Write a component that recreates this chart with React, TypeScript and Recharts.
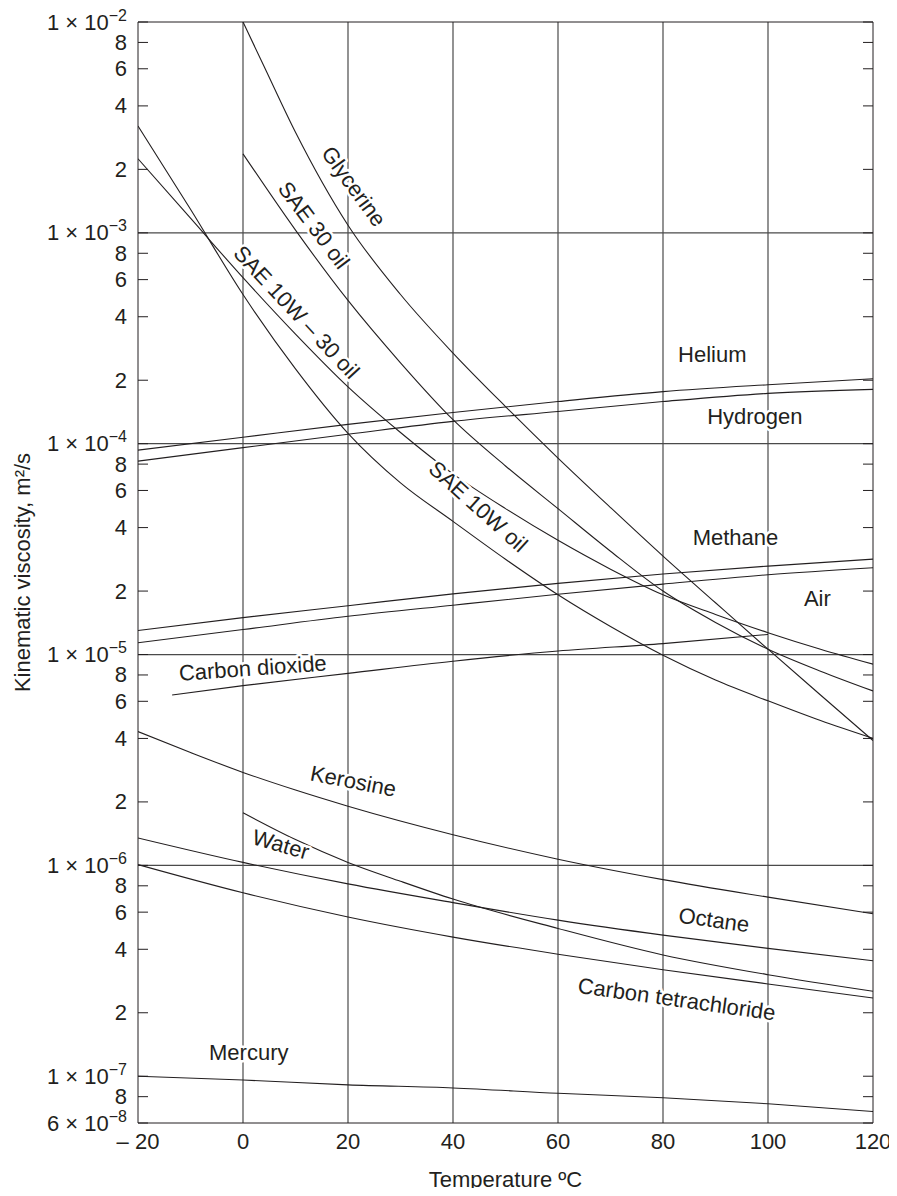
import React from 'react';
import { LineChart, Line, XAxis, YAxis, ReferenceLine, ReferenceDot } from 'recharts';

const FONT = '"Liberation Sans", Arial, Helvetica, sans-serif';
const INK = '#231f20';
const GRID = '#4a4a4a';

// axes: temperature in ºC, kinematic viscosity in m²/s (log)
const tempDomain = [-20, 120];
const nuDomain = [6e-8, 1e-2];
const tempLabelTicks = [-20, 0, 20, 40, 60, 80, 100, 120];
const tempMinorTicks = [-10, 10, 30, 50, 70, 90, 110];
const tempGrid = [0, 20, 40, 60, 80, 100];
const nuTicks = [
  1e-2, 8e-3, 6e-3, 4e-3, 2e-3,
  1e-3, 8e-4, 6e-4, 4e-4, 2e-4,
  1e-4, 8e-5, 6e-5, 4e-5, 2e-5,
  1e-5, 8e-6, 6e-6, 4e-6, 2e-6,
  1e-6, 8e-7, 6e-7, 4e-7, 2e-7,
  1e-7, 8e-8, 6e-8,
];
const nuGrid = [1e-3, 1e-4, 1e-5, 1e-6];

// curves
const glycerineT = [0, 4, 10, 20, 30, 40, 50, 60, 70, 80, 90, 100, 110, 120];
const glycerineNu = [1.0e-2, 6.17e-3, 3.0e-3, 1.087e-3, 5.1e-4, 2.69e-4, 1.5e-4, 8.55e-5, 4.98e-5, 2.93e-5, 1.76e-5, 1.06e-5, 6.43e-6, 3.91e-6];

const sae30T = [0, 10, 20, 30, 40, 50, 60, 70, 80, 90, 100, 110, 120];
const sae30Nu = [2.37e-3, 1.03e-3, 4.78e-4, 2.42e-4, 1.3e-4, 7.84e-5, 4.92e-5, 3.09e-5, 2.0e-5, 1.42e-5, 1.06e-5, 8.34e-6, 6.72e-6];

const sae10w30T = [-20, -10, 0, 10, 20, 30, 40, 50, 60, 70, 80, 90, 100, 110, 120];
const sae10w30Nu = [2.245e-3, 1.173e-3, 6.13e-4, 3.31e-4, 1.86e-4, 1.13e-4, 7.19e-5, 4.92e-5, 3.48e-5, 2.54e-5, 1.92e-5, 1.55e-5, 1.27e-5, 1.06e-5, 9.0e-6];

const sae10wT = [-20, -10, 0, 10, 20, 30, 40, 50, 60, 70, 80, 90, 100, 110, 120];
const sae10wNu = [3.21e-3, 1.293e-3, 5.1e-4, 2.264e-4, 1.12e-4, 6.52e-5, 4.28e-5, 2.83e-5, 1.92e-5, 1.358e-5, 9.92e-6, 7.57e-6, 6.03e-6, 4.86e-6, 4.0e-6];

const gasT = [-20, 0, 20, 40, 60, 80, 100, 120];
const heliumNu = [9.32e-5, 1.073e-4, 1.235e-4, 1.406e-4, 1.584e-4, 1.765e-4, 1.904e-4, 2.032e-4];
const hydrogenNu = [8.27e-5, 9.58e-5, 1.108e-4, 1.276e-4, 1.422e-4, 1.584e-4, 1.733e-4, 1.809e-4];
const methaneNu = [1.3e-5, 1.497e-5, 1.704e-5, 1.94e-5, 2.175e-5, 2.41e-5, 2.627e-5, 2.834e-5];
const airNu = [1.138e-5, 1.314e-5, 1.518e-5, 1.714e-5, 1.93e-5, 2.158e-5, 2.39e-5, 2.58e-5];

const co2T = [-13.5, 0, 20, 40, 60, 80, 100];
const co2Nu = [6.43e-6, 7.12e-6, 8.14e-6, 9.3e-6, 1.039e-5, 1.126e-5, 1.245e-5];

const keroseneT = [-20, -10, 0, 10, 20, 40, 60, 80, 100, 120];
const keroseneNu = [4.31e-6, 3.43e-6, 2.76e-6, 2.276e-6, 1.908e-6, 1.398e-6, 1.07e-6, 8.56e-7, 7.07e-7, 5.9e-7];

const waterT = [0, 10, 20, 30, 40, 60, 80, 100, 120];
const waterNu = [1.775e-6, 1.325e-6, 1.033e-6, 8.41e-7, 6.92e-7, 5.02e-7, 3.76e-7, 3.03e-7, 2.53e-7];

const octaneNu = [1.349e-6, 1.033e-6, 8.17e-7, 6.66e-7, 5.5e-7, 4.67e-7, 4.04e-7, 3.53e-7];
const ccl4Nu = [1.008e-6, 7.41e-7, 5.69e-7, 4.57e-7, 3.79e-7, 3.2e-7, 2.74e-7, 2.35e-7];
const mercuryNu = [1.0e-7, 9.6e-8, 9.1e-8, 8.8e-8, 8.3e-8, 7.9e-8, 7.4e-8, 6.8e-8];

const series = [
  { name: 'Glycerine', t: glycerineT, nu: glycerineNu },
  { name: 'SAE 30 oil', t: sae30T, nu: sae30Nu },
  { name: 'SAE 10W-30 oil', t: sae10w30T, nu: sae10w30Nu },
  { name: 'SAE 10W oil', t: sae10wT, nu: sae10wNu },
  { name: 'Helium', t: gasT, nu: heliumNu },
  { name: 'Hydrogen', t: gasT, nu: hydrogenNu },
  { name: 'Methane', t: gasT, nu: methaneNu },
  { name: 'Air', t: gasT, nu: airNu },
  { name: 'Carbon dioxide', t: co2T, nu: co2Nu },
  { name: 'Kerosine', t: keroseneT, nu: keroseneNu },
  { name: 'Water', t: waterT, nu: waterNu },
  { name: 'Octane', t: gasT, nu: octaneNu },
  { name: 'Carbon tetrachloride', t: gasT, nu: ccl4Nu },
  { name: 'Mercury', t: gasT, nu: mercuryNu },
];

// where each curve name sits (data coords) and its slant
const curveLabels = [
  { text: 'Glycerine', t: 21.1, nu: 1.66e-3, angle: 54 },
  { text: 'SAE 30 oil', t: 13.5, nu: 1.087e-3, angle: 53 },
  { text: 'SAE 10W – 30 oil', t: 10.2, nu: 4.2e-4, angle: 47 },
  { text: 'SAE 10W oil', t: 44.8, nu: 5.03e-5, angle: 42 },
  { text: 'Helium', t: 89.4, nu: 2.65e-4, angle: 0 },
  { text: 'Hydrogen', t: 97.5, nu: 1.353e-4, angle: 0 },
  { text: 'Methane', t: 93.8, nu: 3.58e-5, angle: 0 },
  { text: 'Air', t: 109.4, nu: 1.838e-5, angle: 0 },
  { text: 'Carbon dioxide', t: 1.85, nu: 8.62e-6, angle: -4 },
  { text: 'Kerosine', t: 21, nu: 2.51e-6, angle: 11 },
  { text: 'Water', t: 7.2, nu: 1.255e-6, angle: 16 },
  { text: 'Octane', t: 89.7, nu: 5.51e-7, angle: 8 },
  { text: 'Carbon tetrachloride', t: 82.6, nu: 2.32e-7, angle: 8 },
  { text: 'Mercury', t: 1.1, nu: 1.3e-7, angle: 0 },
];

const toPoints = (t: number[], nu: number[]) => t.map((v, i) => ({ t: v, nu: nu[i] }));

function NuTickLabel({ x, y, payload }: any) {
  const v: number = payload.value;
  const exp = Math.floor(Math.log10(v) + 1e-9);
  const mant = Math.round(v / Math.pow(10, exp));
  const withPower = mant === 1 || v === nuDomain[0];
  return (
    <text x={x - 11} y={y} dy={7.5} textAnchor="end" fontSize={22} fontFamily={FONT} fill={INK}>
      {withPower ? (
        <>
          <tspan>{`${mant} × 10`}</tspan>
          <tspan dy={-9} fontSize={16}>{`−${-exp}`}</tspan>
        </>
      ) : String(mant)}
    </text>
  );
}

function TempTickLabel({ x, y, payload }: any) {
  const v: number = payload.value;
  return (
    <text x={x} y={y} dy={26} textAnchor="middle" fontSize={22} fontFamily={FONT} fill={INK}>
      {v < 0 ? `– ${-v}` : String(v)}
    </text>
  );
}

// tick marks only, no text
const NoLabel = () => null;

const curveLabelShape = (text: string, angle: number) => (p: any) => (
  <text
    x={p.cx}
    y={p.cy}
    transform={`rotate(${angle} ${p.cx} ${p.cy})`}
    textAnchor="middle"
    dominantBaseline="central"
    fontSize={22}
    fontFamily={FONT}
    fill={INK}
    stroke="#fff"
    strokeWidth={5}
    strokeLinejoin="round"
    style={{ paintOrder: 'stroke' }}
  >
    {text}
  </text>
);

export default function App() {
  return (
    <div style={{ margin: '-8px 0 -8px -8px', width: 897, height: 1196, background: '#fff' }}>
      <LineChart width={897} height={1196} margin={{ top: 22, right: 24, bottom: 0, left: 0 }}>
        <XAxis
          xAxisId="t" type="number" dataKey="t" domain={tempDomain} ticks={tempLabelTicks}
          interval={0} allowDataOverflow height={73} stroke={INK}
          tickLine={false} tickSize={0} tickMargin={0} tick={<TempTickLabel />}
          label={{ value: 'Temperature ºC', position: 'insideBottom', offset: 9, fill: INK, fontSize: 22, fontFamily: FONT }}
        />
        <XAxis
          xAxisId="tBottom" type="number" domain={tempDomain} ticks={tempMinorTicks}
          interval={0} allowDataOverflow mirror axisLine={false} stroke={INK} tickSize={10} tick={<NoLabel />}
        />
        <XAxis
          xAxisId="tTop" orientation="top" type="number" domain={tempDomain} ticks={tempMinorTicks}
          interval={0} allowDataOverflow mirror stroke={INK} tickSize={10} tick={<NoLabel />}
        />
        <YAxis
          yAxisId="nu" type="number" scale="log" domain={nuDomain} ticks={nuTicks}
          interval={0} allowDataOverflow width={138} stroke={INK}
          tickLine={false} tickSize={0} tickMargin={0} tick={<NuTickLabel />}
          label={{
            value: 'Kinematic viscosity, m²/s', angle: -90, position: 'insideLeft', offset: 22,
            fill: INK, fontSize: 22, fontFamily: FONT, style: { textAnchor: 'middle' },
          }}
        />
        <YAxis
          yAxisId="nuLeft" type="number" scale="log" domain={nuDomain} ticks={nuTicks}
          interval={0} allowDataOverflow mirror axisLine={false} stroke={INK} tickSize={10} tick={<NoLabel />}
        />
        <YAxis
          yAxisId="nuRight" orientation="right" type="number" scale="log" domain={nuDomain} ticks={nuTicks}
          interval={0} allowDataOverflow mirror stroke={INK} tickSize={10} tick={<NoLabel />}
        />

        {tempGrid.map((t) => (
          <ReferenceLine key={`vx${t}`} xAxisId="t" yAxisId="nu" x={t} stroke={GRID} strokeWidth={1.2} />
        ))}
        {nuGrid.map((v) => (
          <ReferenceLine key={`hy${v}`} xAxisId="t" yAxisId="nu" y={v} stroke={GRID} strokeWidth={1.2} />
        ))}

        {series.map((s) => (
          <Line
            key={s.name}
            name={s.name}
            data={toPoints(s.t, s.nu)}
            xAxisId="t"
            yAxisId="nu"
            dataKey="nu"
            type="monotone"
            stroke={INK}
            strokeWidth={1.1}
            dot={false}
            activeDot={false}
            isAnimationActive={false}
          />
        ))}

        {curveLabels.map((l) => (
          <ReferenceDot
            key={l.text}
            xAxisId="t"
            yAxisId="nu"
            x={l.t}
            y={l.nu}
            r={0}
            ifOverflow="visible"
            shape={curveLabelShape(l.text, l.angle)}
          />
        ))}
      </LineChart>
    </div>
  );
}
